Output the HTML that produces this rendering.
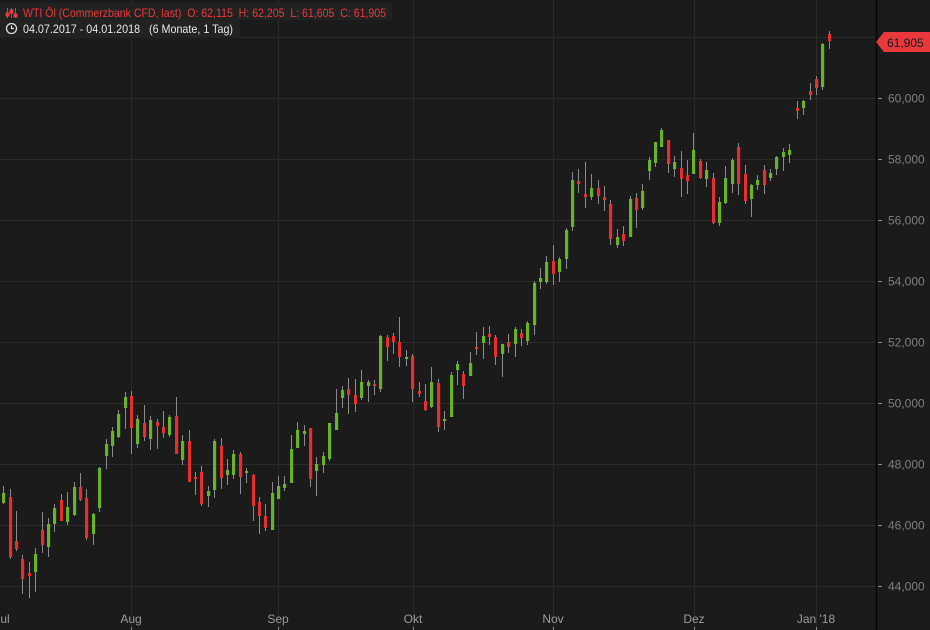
<!DOCTYPE html>
<html><head><meta charset="utf-8"><style>
html,body{margin:0;padding:0;background:#1c1b1b;}
svg{display:block;font-family:"Liberation Sans",sans-serif;}
</style></head><body>
<svg id="s" width="930" height="630" viewBox="0 0 930 630" xmlns="http://www.w3.org/2000/svg">
<rect width="930" height="630" fill="#1c1b1b"/>
<g stroke="#2a2a2a" stroke-width="1">
<line x1="0" x2="876" y1="586.5" y2="586.5"/><line x1="0" x2="876" y1="525.5" y2="525.5"/>
<line x1="0" x2="876" y1="464.5" y2="464.5"/><line x1="0" x2="876" y1="403.5" y2="403.5"/>
<line x1="0" x2="876" y1="342.5" y2="342.5"/><line x1="0" x2="876" y1="281.5" y2="281.5"/>
<line x1="0" x2="876" y1="220.5" y2="220.5"/><line x1="0" x2="876" y1="159.5" y2="159.5"/>
<line x1="0" x2="876" y1="98.5" y2="98.5"/><line x1="0" x2="876" y1="37.5" y2="37.5"/>
<line x1="131.5" x2="131.5" y1="0" y2="630"/><line x1="278.5" x2="278.5" y1="0" y2="630"/>
<line x1="413.5" x2="413.5" y1="0" y2="630"/><line x1="553.5" x2="553.5" y1="0" y2="630"/>
<line x1="694.5" x2="694.5" y1="0" y2="630"/><line x1="816.5" x2="816.5" y1="0" y2="630"/>
</g>
<line x1="876.5" x2="876.5" y1="0" y2="630" stroke="#050505" stroke-width="1.5"/>
<g stroke="#888" stroke-width="1">
<line x1="878" x2="882" y1="586.5" y2="586.5"/><line x1="878" x2="882" y1="525.5" y2="525.5"/>
<line x1="878" x2="882" y1="464.5" y2="464.5"/><line x1="878" x2="882" y1="403.5" y2="403.5"/>
<line x1="878" x2="882" y1="342.5" y2="342.5"/><line x1="878" x2="882" y1="281.5" y2="281.5"/>
<line x1="878" x2="882" y1="220.5" y2="220.5"/><line x1="878" x2="882" y1="159.5" y2="159.5"/>
<line x1="878" x2="882" y1="98.5" y2="98.5"/>
<line x1="131.5" x2="131.5" y1="627" y2="630"/><line x1="278.5" x2="278.5" y1="627" y2="630"/>
<line x1="413.5" x2="413.5" y1="627" y2="630"/><line x1="553.5" x2="553.5" y1="627" y2="630"/>
<line x1="694.5" x2="694.5" y1="627" y2="630"/><line x1="816.5" x2="816.5" y1="627" y2="630"/>
</g>
<g fill="#7d7d7d" font-size="12">
<text x="888" y="590.5">44,000</text><text x="888" y="529.5">46,000</text>
<text x="888" y="468.5">48,000</text><text x="888" y="407.5">50,000</text>
<text x="888" y="346.5">52,000</text><text x="888" y="285.5">54,000</text>
<text x="888" y="224.5">56,000</text><text x="888" y="163.5">58,000</text>
<text x="888" y="102.5">60,000</text>
</g>
<g fill="#9a9a9a" font-size="12" text-anchor="middle">
<text x="2" y="623">Jul</text><text x="131" y="623">Aug</text><text x="278" y="623">Sep</text>
<text x="413" y="623">Okt</text><text x="553" y="623">Nov</text><text x="694" y="623">Dez</text>
<text x="816" y="623">Jan '18</text>
</g>
<polygon points="876,42 884,32 930,32 930,52 884,52" fill="#e8383b"/>
<text x="887" y="47" font-size="12" fill="#1a1a1a">61,905</text>
<g id="c"></g>
<rect x="0" y="3" width="392" height="17" fill="#222"/>
<rect x="0" y="20" width="240" height="18" fill="#222"/>
<g stroke="#e8383b" stroke-width="1" fill="#e8383b">
<line x1="7.5" y1="8" x2="7.5" y2="18"/><line x1="11.5" y1="8" x2="11.5" y2="18"/><line x1="15.5" y1="8" x2="15.5" y2="18"/>
<rect x="6" y="13" width="3" height="3"/><rect x="10" y="10" width="3" height="3"/><rect x="14" y="14" width="3" height="3"/>
</g>
<text x="23" y="17" font-size="12" fill="#e8383b" textLength="363" lengthAdjust="spacingAndGlyphs">WTI Öl (Commerzbank CFD, last)&#160; O: 62,115&#160; H: 62,205&#160; L: 61,605&#160; C: 61,905</text>
<circle cx="11.5" cy="28.5" r="5" fill="none" stroke="#ddd" stroke-width="1.3"/>
<path d="M11.5 25.5 V28.5 H14" fill="none" stroke="#ddd" stroke-width="1.2"/>
<text x="23" y="33" font-size="12" fill="#e6e6e6" textLength="210" lengthAdjust="spacingAndGlyphs">04.07.2017 - 04.01.2018&#160;&#160; (6 Monate, 1 Tag)</text>
</svg>
<script>
var d=[[486,504,493,503,'g'],[489,559,497,557,'r'],[511,551,541,549,'r'],[555,594,559,579,'r'],[562,598,573,576,'r'],[548,592,554,572,'g'],[512,553,530,545,'r'],[518,557,524,547,'g'],[504,532,508,524,'g'],[494,521,500,521,'r'],
[492,525,507,522,'g'],[482,516,487,515,'g'],[473,501,487,500,'r'],[489,540,498,538,'r'],[513,545,514,534,'g'],[467,512,468,508,'g'],[439,469,444,456,'g'],[427,457,431,446,'g'],[410,438,414,437,'g'],[392,429,397,408,'g'],
[391,454,396,428,'r'],[415,448,419,444,'g'],[405,441,423,437,'r'],[416,450,420,439,'g'],[419,449,422,426,'r'],[411,438,427,433,'r'],[415,437,417,435,'g'],[397,454,416,454,'r'],[435,465,441,460,'g'],[430,482,441,482,'r'],
[472,495,477,479,'r'],[466,506,472,504,'r'],[486,507,491,496,'g'],[439,498,441,490,'g'],[438,489,446,478,'r'],[459,485,470,475,'g'],[450,479,454,475,'g'],[452,494,454,477,'r'],[468,483,471,473,'g'],[474,521,475,506,'r'],
[497,534,502,516,'r'],[504,531,516,528,'r'],[482,530,493,530,'g'],[476,499,486,499,'g'],[476,491,484,488,'g'],[435,483,449,483,'g'],[422,448,430,448,'g'],[425,446,431,434,'g'],[428,487,428,479,'r'],[457,496,464,471,'g'],
[452,473,456,465,'g'],[423,461,423,459,'g'],[389,430,413,430,'g'],[386,408,390,398,'g'],[378,414,389,395,'r'],[379,412,395,404,'r'],[370,400,382,398,'g'],[380,402,382,386,'g'],[380,395,384,386,'r'],[335,392,336,389,'g'],
[335,361,337,347,'r'],[333,354,336,342,'r'],[317,367,342,357,'r'],[350,366,357,359,'g'],[354,402,356,389,'r'],[382,397,391,394,'r'],[384,411,401,410,'r'],[367,408,382,407,'g'],[379,432,383,427,'r'],[411,430,419,421,'g'],
[372,417,375,417,'g'],[361,385,364,370,'g'],[371,399,374,386,'r'],[352,376,363,376,'g'],[332,355,347,348,'r'],[327,359,336,343,'g'],[326,345,334,337,'r'],[335,365,337,357,'r'],[344,377,344,354,'g'],[334,353,342,347,'r'],
[327,357,329,344,'g'],[329,346,333,338,'r'],[321,345,323,341,'g'],[281,335,283,325,'g'],[268,289,278,282,'g'],[256,284,262,282,'g'],[245,285,261,274,'r'],[257,282,259,272,'g'],[228,269,230,259,'g'],[172,231,180,227,'g'],
[169,193,181,184,'r'],[162,208,194,197,'r'],[174,200,188,197,'g'],[180,204,188,196,'r'],[186,211,197,200,'r'],[200,245,204,239,'r'],[229,248,237,245,'g'],[226,246,234,241,'r'],[196,237,199,237,'g'],[193,228,198,210,'r'],
[184,210,191,208,'g'],[157,180,160,171,'g'],[142,167,142,163,'g'],[128,147,130,147,'g'],[140,173,140,164,'r'],[156,177,162,169,'g'],[151,197,168,179,'r'],[160,194,175,181,'r'],[133,174,150,174,'g'],[159,179,161,178,'r'],
[162,187,170,179,'g'],[173,224,178,223,'r'],[197,226,202,223,'g'],[166,204,178,203,'g'],[158,193,160,184,'g'],[143,195,147,184,'r'],[165,204,174,201,'r'],[184,217,185,199,'g'],[175,190,180,185,'g'],[165,194,170,185,'r'],
[169,181,173,178,'g'],[156,175,157,169,'g'],[148,171,152,157,'g'],[144,163,150,155,'g'],[101,119,108,111,'r'],[100,115,101,108,'g'],[83,100,91,95,'r'],[76,95,79,88,'r'],[43,90,44,87,'g'],[31,49,34,41,'r']];
var xs=[];for(var i=0;i<124;i++)xs.push(3.3+i*6.39);
xs.push(797.3,803.3,810.3,816.3,822.3,829.3);
var h='';
for(var i=0;i<d.length;i++){var c=d[i],x=Math.round(xs[i]);
h+='<line x1="'+(x+0.5)+'" x2="'+(x+0.5)+'" y1="'+c[0]+'" y2="'+c[1]+'" stroke="#8a8a8a" stroke-width="1"/>';
var bh=Math.max(2,c[3]-c[2]);
h+='<rect x="'+(x-1)+'" y="'+c[2]+'" width="3.2" height="'+bh+'" fill="'+(c[4]=='g'?'#67b12c':'#e32f2f')+'"/>';}
document.getElementById('c').innerHTML=h;
</script>
</body></html>
